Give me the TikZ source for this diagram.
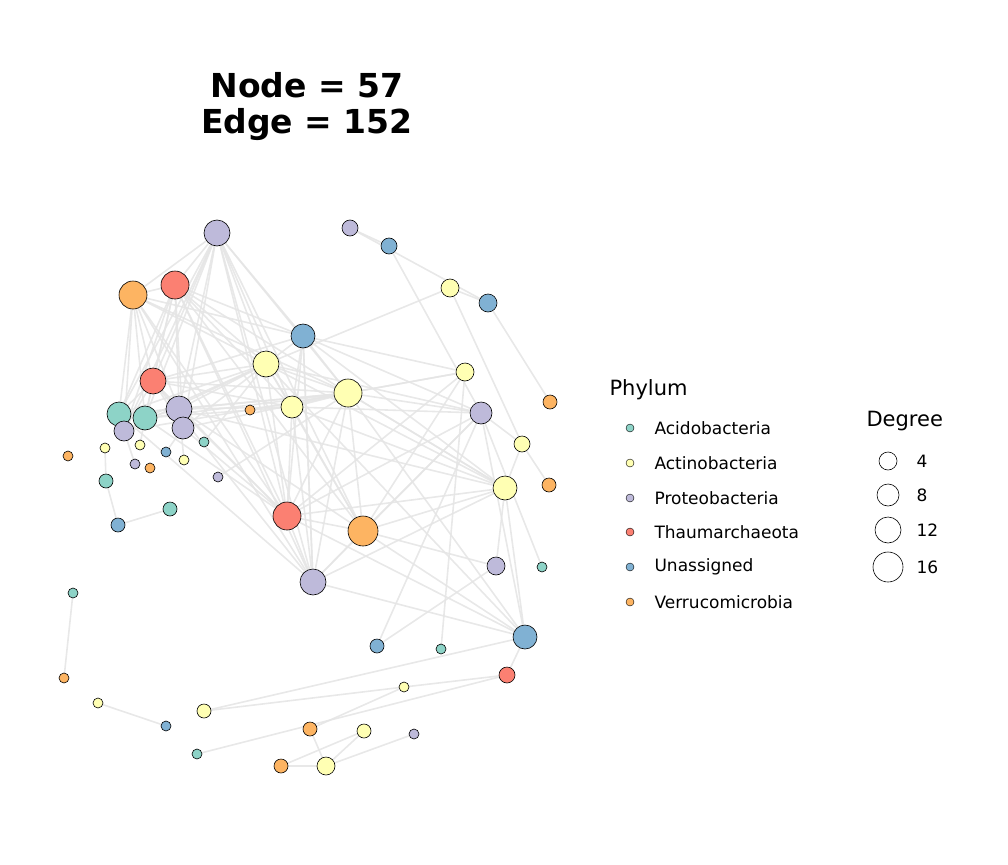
\documentclass[tikz,border=0pt]{standalone}
\usepackage{fontspec}
\setmainfont{DejaVu Sans}
\begin{document}
\begin{tikzpicture}[x=1pt,y=-1pt,
  nd/.style={circle,draw=black,line width=0.6pt,inner sep=0pt},
  ed/.style={draw=black!10,line width=1.6pt,opacity=0.9},
  lg/.style={anchor=west,font=\fontsize{17}{17}\selectfont}]
\definecolor{cA}{HTML}{8DD3C7}\definecolor{cAc}{HTML}{FFFFB3}\definecolor{cP}{HTML}{BEBADA}
\definecolor{cT}{HTML}{FB8072}\definecolor{cU}{HTML}{80B1D3}\definecolor{cV}{HTML}{FDB462}
\useasboundingbox (0,0) rectangle (1008,864);
\foreach \i/\x/\y/\r/\c in {1/217/233/13/cP,2/350/228/8/cP,3/389/246/8/cU,4/175/285/14/cT,5/133/295/14/cV,6/450/288/9/cAc,7/488/303/9/cU,8/303/336/12/cU,9/266/364/13/cAc,10/465/372/9/cAc,11/153/381/13/cT,12/348/393/14/cAc,13/550/402/7/cV,14/119/414/12/cA,15/145/418/12/cA,16/179/409/13/cP,17/292/407/11/cAc,18/250/410/5/cV,19/481/413/11/cP,20/124/431/10/cP,21/183/428/11/cP,22/204/442/5/cA,23/522/444/8/cAc,24/105/448/5/cAc,25/140/445/5/cAc,26/166/452/5/cU,27/68/456/5/cV,28/135/464/5/cP,29/150/468/5/cV,30/184/460/5/cAc,31/218/477/5/cP,32/106/481/7/cA,33/549/485/7/cV,34/505/488/12/cAc,35/170/509/7/cA,36/287/516/14/cT,37/363/531/15/cV,38/118/525/7/cU,39/496/566/9/cP,40/542/567/5/cA,41/313/582/13/cP,42/73/593/5/cA,43/525/637/12/cU,44/377/646/7/cU,45/441/649/5/cA,46/507/675/8/cT,47/64/678/5/cV,48/404/687/5/cAc,49/98/703/5/cAc,50/204/711/7/cAc,51/166/726/5/cU,52/310/729/7/cV,53/364/731/7/cAc,54/414/734/5/cP,55/197/754/5/cA,56/281/766/7/cV,57/326/766/9/cAc}
  \coordinate (c\i) at (\x,\y);
% edges
\foreach \a/\b in {2/3,2/7,3/19,6/7,6/23,6/9,7/13,10/12,10/45,19/12,19/23,23/34,23/33,34/39,34/12,34/37,40/19,43/37,43/41,43/12,43/36,43/9,44/19,39/37,42/47,49/51,50/43,50/48,48/46,48/52,55/46,52/57,56/57,56/53,57/53,57/54,43/46,
 1/4,1/5,1/11,1/14,1/15,1/16,1/9,1/8,1/12,1/17,1/36,1/21,1/20,1/37,
 4/5,4/11,4/14,4/15,4/16,4/21,4/8,4/9,4/12,4/36,4/41,4/17,4/20,
 5/11,5/14,5/15,5/16,5/9,5/12,5/8,5/20,5/36,
 11/14,11/15,11/16,11/9,11/12,11/17,11/36,11/21,11/20,11/8,
 14/15,14/16,14/12,14/9,14/20,15/16,15/12,15/9,15/17,15/36,16/12,16/9,16/17,16/37,16/21,16/34,
 8/12,8/9,8/17,8/19,8/34,8/36,8/41,9/12,9/17,9/36,9/37,9/19,9/34,12/17,12/36,12/37,12/41,12/10,12/34,
 17/36,17/37,17/41,17/34,17/19,36/37,36/41,36/19,36/34,37/41,37/19,37/10,41/34,41/19,41/8,
 21/12,21/36,21/9,20/12,20/9,11/41,14/41,16/36,4/37,1/41,5/41,34/43,19/43,39/44,10/36,10/8,18/12,
 24/32,32/38,35/38,22/9,31/12,30/16,25/15,26/21,28/20}
  \draw[ed] (c\a) -- (c\b);
\foreach \i/\x/\y/\r/\c in {1/217/233/13/cP,2/350/228/8/cP,3/389/246/8/cU,4/175/285/14/cT,5/133/295/14/cV,6/450/288/9/cAc,7/488/303/9/cU,8/303/336/12/cU,9/266/364/13/cAc,10/465/372/9/cAc,11/153/381/13/cT,12/348/393/14/cAc,13/550/402/7/cV,14/119/414/12/cA,15/145/418/12/cA,16/179/409/13/cP,17/292/407/11/cAc,18/250/410/5/cV,19/481/413/11/cP,20/124/431/10/cP,21/183/428/11/cP,22/204/442/5/cA,23/522/444/8/cAc,24/105/448/5/cAc,25/140/445/5/cAc,26/166/452/5/cU,27/68/456/5/cV,28/135/464/5/cP,29/150/468/5/cV,30/184/460/5/cAc,31/218/477/5/cP,32/106/481/7/cA,33/549/485/7/cV,34/505/488/12/cAc,35/170/509/7/cA,36/287/516/14/cT,37/363/531/15/cV,38/118/525/7/cU,39/496/566/9/cP,40/542/567/5/cA,41/313/582/13/cP,42/73/593/5/cA,43/525/637/12/cU,44/377/646/7/cU,45/441/649/5/cA,46/507/675/8/cT,47/64/678/5/cV,48/404/687/5/cAc,49/98/703/5/cAc,50/204/711/7/cAc,51/166/726/5/cU,52/310/729/7/cV,53/364/731/7/cAc,54/414/734/5/cP,55/197/754/5/cA,56/281/766/7/cV,57/326/766/9/cAc}
  \node[nd,fill=\c,minimum size=2*\r pt] (n\i) at (c\i) {};
% title
\node[font=\bfseries\fontsize{33}{33}\selectfont] (t1) at (307,85) {Node = 57};
\node[font=\bfseries\fontsize{33}{33}\selectfont] (t2) at (307,125) {Edge = 152};
% legends
\node[lg,font=\fontsize{21}{21}\selectfont] (ph) at (606,390) {Phylum};
\foreach \y/\c/\t [count=\k] in {428/cA/Acidobacteria,463/cAc/Actinobacteria,498/cP/Proteobacteria,532/cT/Thaumarchaeota,567/cU/Unassigned,602/cV/Verrucomicrobia}{
  \node[nd,fill=\c,minimum size=8pt,line width=0.4pt] (lp\k) at (630,\y) {};
  \node[lg] (lt\k) at (651,\y) {\t};}
\node[lg,font=\fontsize{21}{21}\selectfont] (dg) at (863,421) {Degree};
\foreach \y/\r/\t [count=\k] in {461/9/4,495/11/8,530/13/12,567/15/16}{
  \node[nd,fill=white,minimum size=2*\r pt] (ld\k) at (888,\y) {};
  \node[lg] (ldt\k) at (913,\y) {\t};}
\end{tikzpicture}
\end{document}
